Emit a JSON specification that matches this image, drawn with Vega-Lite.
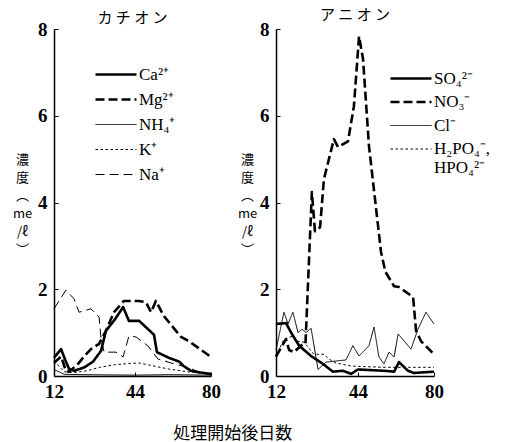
{
  "$schema": "https://vega.github.io/schema/vega-lite/v6.json",
  "background": "white",
  "padding": {"left": 12, "top": 8, "right": 5, "bottom": 2},
  "datasets": {
    "cation": [
      {"day": 12, "ion": "Ca²⁺", "v": 0.42}, {"day": 14.8, "ion": "Ca²⁺", "v": 0.62}, {"day": 16.7, "ion": "Ca²⁺", "v": 0.33}, {"day": 18, "ion": "Ca²⁺", "v": 0.16}, {"day": 20, "ion": "Ca²⁺", "v": 0.12}, {"day": 24, "ion": "Ca²⁺", "v": 0.2}, {"day": 27.4, "ion": "Ca²⁺", "v": 0.33}, {"day": 30.6, "ion": "Ca²⁺", "v": 0.58}, {"day": 32.5, "ion": "Ca²⁺", "v": 1.04}, {"day": 36, "ion": "Ca²⁺", "v": 1.3}, {"day": 39.3, "ion": "Ca²⁺", "v": 1.59}, {"day": 41.6, "ion": "Ca²⁺", "v": 1.27}, {"day": 46, "ion": "Ca²⁺", "v": 1.27}, {"day": 53, "ion": "Ca²⁺", "v": 0.95}, {"day": 54.4, "ion": "Ca²⁺", "v": 0.55}, {"day": 60, "ion": "Ca²⁺", "v": 0.42}, {"day": 65, "ion": "Ca²⁺", "v": 0.33}, {"day": 67, "ion": "Ca²⁺", "v": 0.23}, {"day": 70.5, "ion": "Ca²⁺", "v": 0.12}, {"day": 75, "ion": "Ca²⁺", "v": 0.08}, {"day": 80, "ion": "Ca²⁺", "v": 0.05},
      {"day": 12, "ion": "Mg²⁺", "v": 0.3}, {"day": 14.8, "ion": "Mg²⁺", "v": 0.45}, {"day": 16.7, "ion": "Mg²⁺", "v": 0.12}, {"day": 18, "ion": "Mg²⁺", "v": 0.1}, {"day": 21.5, "ion": "Mg²⁺", "v": 0.28}, {"day": 24, "ion": "Mg²⁺", "v": 0.46}, {"day": 26.6, "ion": "Mg²⁺", "v": 0.62}, {"day": 29.8, "ion": "Mg²⁺", "v": 0.74}, {"day": 32.5, "ion": "Mg²⁺", "v": 1.04}, {"day": 35.7, "ion": "Mg²⁺", "v": 1.47}, {"day": 39.6, "ion": "Mg²⁺", "v": 1.73}, {"day": 45.9, "ion": "Mg²⁺", "v": 1.73}, {"day": 49.2, "ion": "Mg²⁺", "v": 1.7}, {"day": 51.6, "ion": "Mg²⁺", "v": 1.47}, {"day": 53.9, "ion": "Mg²⁺", "v": 1.73}, {"day": 57.7, "ion": "Mg²⁺", "v": 1.38}, {"day": 65.8, "ion": "Mg²⁺", "v": 0.9}, {"day": 69.6, "ion": "Mg²⁺", "v": 0.8}, {"day": 80, "ion": "Mg²⁺", "v": 0.44},
      {"day": 12, "ion": "NH₄⁺", "v": 0.15}, {"day": 16, "ion": "NH₄⁺", "v": 0.04}, {"day": 24, "ion": "NH₄⁺", "v": 0.03}, {"day": 44, "ion": "NH₄⁺", "v": 0.02}, {"day": 60, "ion": "NH₄⁺", "v": 0.03}, {"day": 80, "ion": "NH₄⁺", "v": 0.02},
      {"day": 12, "ion": "K⁺", "v": 0.35}, {"day": 16, "ion": "K⁺", "v": 0.1}, {"day": 20, "ion": "K⁺", "v": 0.08}, {"day": 25, "ion": "K⁺", "v": 0.12}, {"day": 30, "ion": "K⁺", "v": 0.2}, {"day": 36, "ion": "K⁺", "v": 0.26}, {"day": 42, "ion": "K⁺", "v": 0.29}, {"day": 46, "ion": "K⁺", "v": 0.3}, {"day": 52, "ion": "K⁺", "v": 0.24}, {"day": 60, "ion": "K⁺", "v": 0.16}, {"day": 70, "ion": "K⁺", "v": 0.09}, {"day": 80, "ion": "K⁺", "v": 0.05},
      {"day": 12, "ion": "Na⁺", "v": 1.55}, {"day": 16.7, "ion": "Na⁺", "v": 1.98}, {"day": 19.9, "ion": "Na⁺", "v": 1.78}, {"day": 21.9, "ion": "Na⁺", "v": 1.47}, {"day": 26.6, "ion": "Na⁺", "v": 1.55}, {"day": 29.8, "ion": "Na⁺", "v": 1.36}, {"day": 30.6, "ion": "Na⁺", "v": 0.85}, {"day": 31.8, "ion": "Na⁺", "v": 0.55}, {"day": 36.5, "ion": "Na⁺", "v": 0.55}, {"day": 39.3, "ion": "Na⁺", "v": 0.44}, {"day": 41.6, "ion": "Na⁺", "v": 0.92}, {"day": 44.5, "ion": "Na⁺", "v": 0.9}, {"day": 50.2, "ion": "Na⁺", "v": 0.69}, {"day": 54.9, "ion": "Na⁺", "v": 0.39}, {"day": 62.5, "ion": "Na⁺", "v": 0.28}, {"day": 69.1, "ion": "Na⁺", "v": 0.2}, {"day": 73.8, "ion": "Na⁺", "v": 0.1}, {"day": 80, "ion": "Na⁺", "v": 0.02}
    ],
    "anion": [
      {"day": 12, "ion": "SO₄²⁻", "v": 1.2}, {"day": 15.9, "ion": "SO₄²⁻", "v": 1.22}, {"day": 17.9, "ion": "SO₄²⁻", "v": 1.0}, {"day": 21, "ion": "SO₄²⁻", "v": 0.7}, {"day": 25.7, "ion": "SO₄²⁻", "v": 0.46}, {"day": 30.3, "ion": "SO₄²⁻", "v": 0.28}, {"day": 34.2, "ion": "SO₄²⁻", "v": 0.1}, {"day": 38.1, "ion": "SO₄²⁻", "v": 0.12}, {"day": 41.3, "ion": "SO₄²⁻", "v": 0.05}, {"day": 44, "ion": "SO₄²⁻", "v": 0.15}, {"day": 56.3, "ion": "SO₄²⁻", "v": 0.12}, {"day": 61.1, "ion": "SO₄²⁻", "v": 0.1}, {"day": 63.4, "ion": "SO₄²⁻", "v": 0.32}, {"day": 67.7, "ion": "SO₄²⁻", "v": 0.12}, {"day": 70.5, "ion": "SO₄²⁻", "v": 0.07}, {"day": 80, "ion": "SO₄²⁻", "v": 0.1},
      {"day": 12, "ion": "NO₃⁻", "v": 0.45}, {"day": 15.9, "ion": "NO₃⁻", "v": 0.85}, {"day": 17.1, "ion": "NO₃⁻", "v": 0.6}, {"day": 19, "ion": "NO₃⁻", "v": 0.55}, {"day": 22.5, "ion": "NO₃⁻", "v": 0.74}, {"day": 23.5, "ion": "NO₃⁻", "v": 0.74}, {"day": 26, "ion": "NO₃⁻", "v": 4.24}, {"day": 27.2, "ion": "NO₃⁻", "v": 3.34}, {"day": 29.2, "ion": "NO₃⁻", "v": 3.43}, {"day": 30.7, "ion": "NO₃⁻", "v": 4.54}, {"day": 34.6, "ion": "NO₃⁻", "v": 5.46}, {"day": 36.2, "ion": "NO₃⁻", "v": 5.28}, {"day": 40.1, "ion": "NO₃⁻", "v": 5.41}, {"day": 42.4, "ion": "NO₃⁻", "v": 6.22}, {"day": 44.5, "ion": "NO₃⁻", "v": 7.83}, {"day": 46.4, "ion": "NO₃⁻", "v": 7.3}, {"day": 49.2, "ion": "NO₃⁻", "v": 5.3}, {"day": 53.5, "ion": "NO₃⁻", "v": 3.46}, {"day": 54.9, "ion": "NO₃⁻", "v": 2.86}, {"day": 57, "ion": "NO₃⁻", "v": 2.4}, {"day": 61.1, "ion": "NO₃⁻", "v": 2.07}, {"day": 63.4, "ion": "NO₃⁻", "v": 2.05}, {"day": 70.1, "ion": "NO₃⁻", "v": 1.82}, {"day": 71.5, "ion": "NO₃⁻", "v": 1.04}, {"day": 73.9, "ion": "NO₃⁻", "v": 0.8}, {"day": 80, "ion": "NO₃⁻", "v": 0.5},
      {"day": 12, "ion": "Cl⁻", "v": 0.6}, {"day": 15.1, "ion": "Cl⁻", "v": 1.47}, {"day": 16.7, "ion": "Cl⁻", "v": 1.2}, {"day": 18.6, "ion": "Cl⁻", "v": 1.47}, {"day": 20.6, "ion": "Cl⁻", "v": 1.0}, {"day": 22.1, "ion": "Cl⁻", "v": 1.08}, {"day": 23.7, "ion": "Cl⁻", "v": 1.0}, {"day": 25.7, "ion": "Cl⁻", "v": 1.1}, {"day": 28.4, "ion": "Cl⁻", "v": 0.15}, {"day": 31.5, "ion": "Cl⁻", "v": 0.32}, {"day": 39.3, "ion": "Cl⁻", "v": 0.37}, {"day": 42, "ion": "Cl⁻", "v": 0.7}, {"day": 44.5, "ion": "Cl⁻", "v": 0.46}, {"day": 49.2, "ion": "Cl⁻", "v": 0.7}, {"day": 51.6, "ion": "Cl⁻", "v": 1.13}, {"day": 53.9, "ion": "Cl⁻", "v": 0.44}, {"day": 56.3, "ion": "Cl⁻", "v": 0.28}, {"day": 58.7, "ion": "Cl⁻", "v": 0.55}, {"day": 61.1, "ion": "Cl⁻", "v": 0.44}, {"day": 63, "ion": "Cl⁻", "v": 0.97}, {"day": 69.1, "ion": "Cl⁻", "v": 0.62}, {"day": 72.4, "ion": "Cl⁻", "v": 1.08}, {"day": 76.2, "ion": "Cl⁻", "v": 1.47}, {"day": 80, "ion": "Cl⁻", "v": 1.2},
      {"day": 12, "ion": "H₂PO₄⁻, HPO₄²⁻", "v": 0.45}, {"day": 15.1, "ion": "H₂PO₄⁻, HPO₄²⁻", "v": 0.85}, {"day": 18.6, "ion": "H₂PO₄⁻, HPO₄²⁻", "v": 0.92}, {"day": 20.6, "ion": "H₂PO₄⁻, HPO₄²⁻", "v": 0.8}, {"day": 22.9, "ion": "H₂PO₄⁻, HPO₄²⁻", "v": 0.78}, {"day": 26.8, "ion": "H₂PO₄⁻, HPO₄²⁻", "v": 0.5}, {"day": 30.7, "ion": "H₂PO₄⁻, HPO₄²⁻", "v": 0.5}, {"day": 32.7, "ion": "H₂PO₄⁻, HPO₄²⁻", "v": 0.39}, {"day": 35.4, "ion": "H₂PO₄⁻, HPO₄²⁻", "v": 0.3}, {"day": 41.3, "ion": "H₂PO₄⁻, HPO₄²⁻", "v": 0.23}, {"day": 45.4, "ion": "H₂PO₄⁻, HPO₄²⁻", "v": 0.22}, {"day": 56.3, "ion": "H₂PO₄⁻, HPO₄²⁻", "v": 0.2}, {"day": 80, "ion": "H₂PO₄⁻, HPO₄²⁻", "v": 0.2}
    ]
  },
  "config": {
    "view": {"stroke": null},
    "axis": {
      "grid": false, "domainColor": "black", "domainWidth": 1.5, "tickColor": "black", "tickWidth": 1, "tickSize": -4,
      "labelFlush": false, "labelOverlap": false,
      "labelFont": "Liberation Serif", "labelFontWeight": "bold", "labelFontSize": 19, "labelColor": "black",
      "titleFont": "Noto Sans CJK JP", "titleFontWeight": "normal", "titleFontSize": 13, "titleColor": "black"
    },
    "legend": {
      "symbolType": "M0,0H4", "symbolSize": 420, "symbolStrokeColor": "black",
      "labelFont": "Liberation Serif", "labelFontSize": 17, "labelColor": "black", "labelOffset": 35,
      "padding": 0, "title": null
    },
    "title": {"font": "Noto Sans CJK JP", "fontWeight": "normal", "color": "black"}
  },
  "title": {"text": "処理開始後日数", "orient": "bottom", "anchor": "middle", "fontSize": 17, "offset": 25, "dx": -19},
  "spacing": 65,
  "bounds": "flush",
  "resolve": {
    "scale": {"x": "independent", "y": "independent", "strokeDash": "independent"},
    "legend": {"strokeDash": "independent"}
  },
  "hconcat": [
    {
      "width": 157, "height": 347,
      "title": {"text": "カ チ オ ン", "fontSize": 15, "offset": -6},
      "data": {"name": "cation"},
      "mark": {"type": "line", "color": "black", "strokeJoin": "round"},
      "encoding": {
        "x": {"field": "day", "type": "quantitative",
              "scale": {"domain": [12, 44, 80], "range": [0, 81, 157], "nice": false, "zero": false},
              "axis": {"values": [12, 44, 80], "title": null, "labelPadding": 10, "labelDx": 2}},
        "y": {"field": "v", "type": "quantitative",
              "scale": {"domain": [0, 8], "nice": false},
              "axis": {"values": [0, 2, 4, 6, 8], "labelPadding": 11,
                       "title": ["濃", "度", "︵", "me", "/ℓ", "︶"], "titleAngle": 0, "titleAlign": "center", "titleBaseline": "middle",
                       "titleX": -32, "titleY": 130, "titleLineHeight": 18}},
        "strokeWidth": {"condition": {"test": "datum.ion == 'Ca²⁺' || datum.ion == 'Mg²⁺'", "value": 2.6}, "value": 1},
        "strokeDash": {"field": "ion", "type": "nominal",
              "scale": {"domain": ["Ca²⁺", "Mg²⁺", "NH₄⁺", "K⁺", "Na⁺"], "range": [[1, 0], [9, 4], [1, 0], [2.5, 2.5], [9, 5]]},
              "legend": {"orient": "none", "legendX": 33, "legendY": 37, "rowPadding": 7,
                         "encode": {"symbols": {"update": {"strokeWidth": {"signal": "datum.value == 'Ca²⁺' || datum.value == 'Mg²⁺' ? 2.6 : 1"}}}}}}
      }
    },
    {
      "width": 158, "height": 347,
      "title": {"text": "ア ニ オ ン", "fontSize": 15, "offset": -3},
      "data": {"name": "anion"},
      "mark": {"type": "line", "color": "black", "strokeJoin": "round"},
      "encoding": {
        "x": {"field": "day", "type": "quantitative",
              "scale": {"domain": [12, 44, 80], "range": [0, 82, 158], "nice": false, "zero": false},
              "axis": {"values": [12, 44, 80], "title": null, "labelPadding": 10, "labelDx": 2}},
        "y": {"field": "v", "type": "quantitative",
              "scale": {"domain": [0, 8], "nice": false},
              "axis": {"values": [0, 2, 4, 6, 8], "labelPadding": 11,
                       "title": ["濃", "度", "︵", "me", "/ℓ", "︶"], "titleAngle": 0, "titleAlign": "center", "titleBaseline": "middle",
                       "titleX": -29, "titleY": 130, "titleLineHeight": 18}},
        "strokeWidth": {"condition": {"test": "datum.ion == 'SO₄²⁻' || datum.ion == 'NO₃⁻'", "value": 2.6}, "value": 1},
        "strokeDash": {"field": "ion", "type": "nominal",
              "scale": {"domain": ["SO₄²⁻", "NO₃⁻", "Cl⁻", "H₂PO₄⁻, HPO₄²⁻"], "range": [[1, 0], [9, 4], [1, 0], [2.5, 2.5]]},
              "legend": {"orient": "none", "legendX": 106, "legendY": 41, "rowPadding": 5.5,
                         "labelExpr": "datum.label == 'H₂PO₄⁻, HPO₄²⁻' ? ['H₂PO₄⁻,', 'HPO₄²⁻'] : datum.label",
                         "encode": {"symbols": {"update": {"strokeWidth": {"signal": "datum.value == 'SO₄²⁻' || datum.value == 'NO₃⁻' ? 2.6 : 1"}}}}}}
      }
    }
  ]
}
